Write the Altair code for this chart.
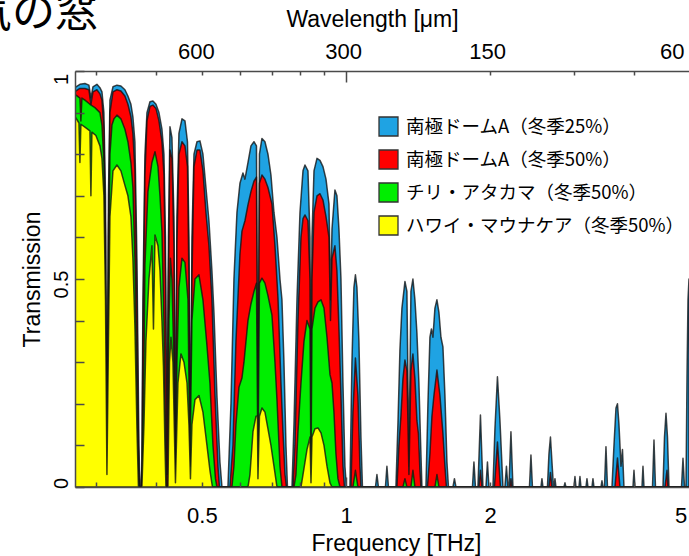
import altair as alt
import pandas as pd

SITES = [
    "南極ドームA（冬季25%）",
    "南極ドームA（冬季50%）",
    "チリ・アタカマ（冬季50%）",
    "ハワイ・マウナケア（冬季50%）",
]
SITE_COLORS = ["#1FA3E3", "#FF0000", "#00EE00", "#FFFF00"]

# (frequency [THz], transmission) along each spectrum
DOME_A_25 = [
    (0.2716, 0.960), (0.2729, 0.962), (0.2781, 0.968), (0.2849, 0.970), (0.2904, 0.966),
    (0.2932, 0.935), (0.2961, 0.962), (0.3018, 0.968), (0.3062, 0.960), (0.3092, 0.950),
    (0.3121, 0.900), (0.3145, 0.700), (0.3167, 0.020), (0.3190, 0.700), (0.3213, 0.930),
    (0.3260, 0.962), (0.3323, 0.966), (0.3387, 0.964), (0.3453, 0.955), (0.3503, 0.940),
    (0.3554, 0.920), (0.3588, 0.890), (0.3623, 0.830), (0.3658, 0.550), (0.3694, 0.100),
    (0.3711, 0.000), (0.3729, 0.000), (0.3747, 0.050), (0.3765, 0.450), (0.3802, 0.800),
    (0.3839, 0.900), (0.3895, 0.926), (0.3951, 0.928), (0.4009, 0.920), (0.4067, 0.900),
    (0.4126, 0.860), (0.4166, 0.800), (0.4196, 0.600), (0.4226, 0.050), (0.4257, 0.600),
    (0.4288, 0.866), (0.4329, 0.840), (0.4371, 0.650), (0.4403, 0.050), (0.4434, 0.650),
    (0.4477, 0.850), (0.4543, 0.885), (0.4609, 0.880), (0.4665, 0.830), (0.4698, 0.600),
    (0.4732, 0.080), (0.4766, 0.600), (0.4813, 0.800), (0.4883, 0.830), (0.4953, 0.832),
    (0.5025, 0.800), (0.5098, 0.720), (0.5172, 0.640), (0.5247, 0.520), (0.5298, 0.420),
    (0.5375, 0.220), (0.5453, 0.060), (0.5506, 0.000), (0.5667, 0.000), (0.5750, 0.200),
    (0.5833, 0.500), (0.5918, 0.660), (0.6004, 0.730), (0.6091, 0.755), (0.6150, 0.740),
    (0.6240, 0.780), (0.6330, 0.820), (0.6422, 0.830), (0.6500, 0.820), (0.6547, 0.100),
    (0.6594, 0.800), (0.6674, 0.838), (0.6771, 0.830), (0.6870, 0.800), (0.6969, 0.750),
    (0.7071, 0.660), (0.7174, 0.600), (0.7278, 0.500), (0.7348, 0.450), (0.7419, 0.300),
    (0.7491, 0.100), (0.7545, 0.000), (0.7711, 0.000), (0.7785, 0.150), (0.7898, 0.450),
    (0.8013, 0.660), (0.8130, 0.760), (0.8208, 0.774), (0.8327, 0.760), (0.8408, 0.600),
    (0.8449, 0.080), (0.8489, 0.600), (0.8572, 0.760), (0.8696, 0.790), (0.8822, 0.785),
    (0.8950, 0.770), (0.9081, 0.740), (0.9213, 0.680), (0.9279, 0.450), (0.9347, 0.620),
    (0.9480, 0.714), (0.9572, 0.700), (0.9665, 0.620), (0.9759, 0.500), (0.9853, 0.250),
    (0.9947, 0.050), (1.0019, 0.000), (1.0189, 0.000), (1.0288, 0.300), (1.0387, 0.480),
    (1.0462, 0.510), (1.0538, 0.480), (1.0640, 0.350), (1.0743, 0.120), (1.0821, 0.000),
    (1.1519, 0.000), (1.1602, 0.030), (1.1686, 0.000), (1.2086, 0.000), (1.2173, 0.050),
    (1.2261, 0.000), (1.2711, 0.000), (1.2834, 0.150), (1.2959, 0.330), (1.3084, 0.430),
    (1.3274, 0.494), (1.3402, 0.470), (1.3532, 0.050), (1.3662, 0.470), (1.3794, 0.500),
    (1.3928, 0.450), (1.4062, 0.370), (1.4198, 0.250), (1.4301, 0.120), (1.4405, 0.000),
    (1.4685, 0.000), (1.4827, 0.200), (1.4970, 0.360), (1.5078, 0.380), (1.5187, 0.360),
    (1.5335, 0.430), (1.5483, 0.450), (1.5632, 0.420), (1.5784, 0.360), (1.5936, 0.337),
    (1.6090, 0.220), (1.6246, 0.060), (1.6364, 0.000), (1.6722, 0.000), (1.6842, 0.020),
    (1.6964, 0.000), (1.8366, 0.000), (1.8498, 0.060), (1.8633, 0.000), (1.8858, 0.000),
    (1.9086, 0.173), (1.9317, 0.000), (1.9598, 0.000), (1.9740, 0.060), (1.9882, 0.000),
    (2.0268, 0.000), (2.0464, 0.140), (2.0712, 0.265), (2.0963, 0.160), (2.1268, 0.000),
    (2.1473, 0.000), (2.1628, 0.050), (2.1784, 0.000), (2.1890, 0.000), (2.2101, 0.133),
    (2.2315, 0.000), (2.4158, 0.000), (2.4333, 0.077), (2.4509, 0.000), (2.5532, 0.000),
    (2.5655, 0.020), (2.5779, 0.000), (2.6343, 0.000), (2.6534, 0.080), (2.6726, 0.120),
    (2.6920, 0.060), (2.7115, 0.000), (2.7180, 0.000), (2.7311, 0.020), (2.7443, 0.000),
    (2.8519, 0.000), (2.8657, 0.010), (2.8795, 0.000), (2.9924, 0.000), (3.0069, 0.025),
    (3.0214, 0.000), (3.0653, 0.000), (3.0801, 0.025), (3.0950, 0.000), (3.1703, 0.000),
    (3.1856, 0.020), (3.2010, 0.000), (3.2631, 0.000), (3.2788, 0.020), (3.2947, 0.000),
    (3.4074, 0.000), (3.4239, 0.015), (3.4404, 0.000), (3.4654, 0.000), (3.4904, 0.097),
    (3.5157, 0.000), (3.5927, 0.000), (3.6274, 0.100), (3.6625, 0.190), (3.6890, 0.200),
    (3.7157, 0.150), (3.7516, 0.050), (3.7788, 0.090), (3.8061, 0.000), (3.9746, 0.000),
    (3.9938, 0.040), (4.0130, 0.000), (4.1504, 0.000), (4.1704, 0.050), (4.1905, 0.000),
    (4.3655, 0.000), (4.3971, 0.113), (4.4289, 0.000), (4.5916, 0.000), (4.6249, 0.120),
    (4.6583, 0.177), (4.6921, 0.120), (4.7262, 0.000), (5.0190, 0.000), (5.0553, 0.069),
    (5.0919, 0.000), (5.1288, 0.000), (5.1535, 0.260), (5.1784, 0.450), (5.2035, 0.500),
]

DOME_A_50 = [
    (0.2716, 0.950), (0.2729, 0.952), (0.2781, 0.958), (0.2849, 0.958), (0.2904, 0.955),
    (0.2932, 0.920), (0.2961, 0.950), (0.3018, 0.955), (0.3062, 0.945), (0.3092, 0.930),
    (0.3121, 0.860), (0.3145, 0.600), (0.3167, 0.010), (0.3190, 0.600), (0.3213, 0.900),
    (0.3260, 0.950), (0.3323, 0.955), (0.3387, 0.952), (0.3453, 0.940), (0.3503, 0.920),
    (0.3554, 0.890), (0.3588, 0.850), (0.3623, 0.760), (0.3658, 0.450), (0.3685, 0.100),
    (0.3702, 0.000), (0.3729, 0.000), (0.3747, 0.020), (0.3765, 0.350), (0.3802, 0.750),
    (0.3839, 0.880), (0.3895, 0.915), (0.3951, 0.918), (0.4009, 0.910), (0.4067, 0.880),
    (0.4126, 0.830), (0.4166, 0.750), (0.4196, 0.500), (0.4226, 0.030), (0.4257, 0.500),
    (0.4288, 0.810), (0.4329, 0.790), (0.4371, 0.580), (0.4403, 0.030), (0.4434, 0.580),
    (0.4477, 0.800), (0.4543, 0.830), (0.4609, 0.820), (0.4665, 0.770), (0.4698, 0.500),
    (0.4732, 0.050), (0.4766, 0.500), (0.4813, 0.770), (0.4883, 0.810), (0.4953, 0.810),
    (0.5025, 0.760), (0.5098, 0.660), (0.5172, 0.580), (0.5247, 0.450), (0.5324, 0.220),
    (0.5401, 0.050), (0.5440, 0.000), (0.5722, 0.000), (0.5805, 0.100), (0.5889, 0.350),
    (0.5946, 0.454), (0.6004, 0.560), (0.6062, 0.615), (0.6150, 0.640), (0.6240, 0.678),
    (0.6330, 0.710), (0.6422, 0.735), (0.6500, 0.745), (0.6547, 0.080), (0.6594, 0.730),
    (0.6674, 0.750), (0.6771, 0.740), (0.6870, 0.720), (0.7003, 0.680), (0.7105, 0.580),
    (0.7209, 0.454), (0.7313, 0.250), (0.7384, 0.133), (0.7455, 0.030), (0.7509, 0.000),
    (0.7748, 0.000), (0.7822, 0.100), (0.7936, 0.400), (0.8052, 0.600), (0.8130, 0.645),
    (0.8208, 0.654), (0.8327, 0.640), (0.8408, 0.500), (0.8449, 0.050), (0.8489, 0.500),
    (0.8572, 0.660), (0.8696, 0.700), (0.8822, 0.705), (0.8950, 0.690), (0.9081, 0.650),
    (0.9213, 0.600), (0.9279, 0.400), (0.9347, 0.550), (0.9480, 0.580), (0.9572, 0.520),
    (0.9665, 0.380), (0.9759, 0.220), (0.9853, 0.050), (0.9923, 0.000), (1.0238, 0.000),
    (1.0337, 0.180), (1.0462, 0.310), (1.0589, 0.220), (1.0691, 0.050), (1.0743, 0.000),
    (1.2773, 0.000), (1.2896, 0.100), (1.3021, 0.170), (1.3147, 0.260), (1.3274, 0.305),
    (1.3402, 0.280), (1.3532, 0.030), (1.3662, 0.280), (1.3794, 0.320), (1.3928, 0.260),
    (1.4062, 0.160), (1.4164, 0.128), (1.4267, 0.040), (1.4336, 0.000), (1.4792, 0.000),
    (1.4970, 0.080), (1.5114, 0.170), (1.5261, 0.220), (1.5483, 0.281), (1.5708, 0.220),
    (1.5936, 0.128), (1.6090, 0.050), (1.6206, 0.000), (1.8949, 0.000), (1.9086, 0.040),
    (1.9224, 0.000), (2.0415, 0.000), (2.0712, 0.108), (2.1013, 0.000), (2.1995, 0.000),
    (2.2101, 0.020), (2.2208, 0.000), (2.6534, 0.000), (2.6726, 0.035), (2.6920, 0.000),
    (3.6449, 0.000), (3.6890, 0.070), (3.7336, 0.000), (4.6360, 0.000), (4.6810, 0.040),
    (4.7036, 0.000), (5.2035, 0.000),
]

ATACAMA_50 = [
    (0.2716, 0.942), (0.2729, 0.942), (0.2781, 0.935), (0.2794, 0.880), (0.2808, 0.935),
    (0.2849, 0.930), (0.2918, 0.920), (0.2989, 0.912), (0.3062, 0.900), (0.3092, 0.870),
    (0.3121, 0.780), (0.3145, 0.450), (0.3167, 0.000), (0.3190, 0.450), (0.3213, 0.800),
    (0.3244, 0.870), (0.3276, 0.885), (0.3323, 0.894), (0.3387, 0.885), (0.3453, 0.860),
    (0.3503, 0.830), (0.3554, 0.780), (0.3588, 0.720), (0.3623, 0.550), (0.3658, 0.250),
    (0.3685, 0.020), (0.3702, 0.000), (0.3747, 0.000), (0.3784, 0.300), (0.3802, 0.534),
    (0.3857, 0.710), (0.3932, 0.780), (0.3990, 0.806), (0.4048, 0.770), (0.4087, 0.700),
    (0.4126, 0.614), (0.4166, 0.400), (0.4186, 0.213), (0.4216, 0.000), (0.4247, 0.000),
    (0.4267, 0.400), (0.4298, 0.550), (0.4329, 0.500), (0.4371, 0.300), (0.4403, 0.020),
    (0.4434, 0.300), (0.4477, 0.480), (0.4543, 0.550), (0.4609, 0.540), (0.4676, 0.450),
    (0.4721, 0.050), (0.4766, 0.400), (0.4836, 0.500), (0.4930, 0.510), (0.5025, 0.450),
    (0.5123, 0.340), (0.5197, 0.250), (0.5273, 0.100), (0.5337, 0.020), (0.5375, 0.000),
    (0.5777, 0.000), (0.5833, 0.050), (0.5889, 0.150), (0.5975, 0.240), (0.6062, 0.262),
    (0.6121, 0.300), (0.6180, 0.350), (0.6240, 0.400), (0.6330, 0.440), (0.6422, 0.470),
    (0.6500, 0.490), (0.6547, 0.050), (0.6594, 0.490), (0.6674, 0.502), (0.6771, 0.490),
    (0.6870, 0.460), (0.7003, 0.413), (0.7105, 0.300), (0.7174, 0.210), (0.7278, 0.050),
    (0.7348, 0.000), (0.7785, 0.000), (0.7860, 0.030), (0.7936, 0.133), (0.8052, 0.250),
    (0.8169, 0.350), (0.8287, 0.400), (0.8408, 0.380), (0.8449, 0.030), (0.8489, 0.380),
    (0.8613, 0.430), (0.8738, 0.445), (0.8865, 0.450), (0.8994, 0.430), (0.9125, 0.360),
    (0.9257, 0.270), (0.9347, 0.250), (0.9435, 0.180), (0.9526, 0.080), (0.9618, 0.020),
    (0.9712, 0.000), (1.0337, 0.000), (1.0462, 0.040), (1.0589, 0.000), (1.3147, 0.000),
    (1.3274, 0.020), (1.3402, 0.000), (1.3662, 0.000), (1.3794, 0.040), (1.3928, 0.000),
    (1.5335, 0.000), (1.5483, 0.030), (1.5632, 0.000), (5.2035, 0.000),
]

MAUNA_KEA_50 = [
    (0.2716, 0.888), (0.2729, 0.887), (0.2768, 0.875), (0.2781, 0.780), (0.2794, 0.872),
    (0.2849, 0.865), (0.2918, 0.856), (0.2932, 0.700), (0.2946, 0.853), (0.3003, 0.845),
    (0.3062, 0.820), (0.3092, 0.790), (0.3121, 0.700), (0.3145, 0.450), (0.3167, 0.030),
    (0.3190, 0.350), (0.3213, 0.650), (0.3260, 0.760), (0.3323, 0.774), (0.3387, 0.760),
    (0.3453, 0.725), (0.3503, 0.700), (0.3554, 0.650), (0.3588, 0.550), (0.3623, 0.385),
    (0.3658, 0.144), (0.3685, 0.000), (0.3747, 0.000), (0.3784, 0.150), (0.3820, 0.350),
    (0.3876, 0.500), (0.3932, 0.580), (0.3961, 0.380), (0.3990, 0.606), (0.4048, 0.580),
    (0.4087, 0.520), (0.4126, 0.400), (0.4156, 0.290), (0.4186, 0.100), (0.4206, 0.000),
    (0.4247, 0.000), (0.4278, 0.300), (0.4309, 0.360), (0.4350, 0.300), (0.4403, 0.010),
    (0.4456, 0.250), (0.4521, 0.320), (0.4587, 0.300), (0.4654, 0.250), (0.4698, 0.150),
    (0.4732, 0.020), (0.4766, 0.150), (0.4836, 0.210), (0.4930, 0.220), (0.5025, 0.180),
    (0.5123, 0.100), (0.5197, 0.040), (0.5260, 0.000), (0.6240, 0.000), (0.6300, 0.030),
    (0.6392, 0.133), (0.6484, 0.170), (0.6531, 0.170), (0.6547, 0.020), (0.6594, 0.170),
    (0.6674, 0.190), (0.6771, 0.180), (0.6870, 0.140), (0.6969, 0.100), (0.7071, 0.050),
    (0.7174, 0.000), (0.8052, 0.000), (0.8130, 0.030), (0.8287, 0.090), (0.8408, 0.120),
    (0.8449, 0.010), (0.8489, 0.120), (0.8613, 0.140), (0.8738, 0.142), (0.8865, 0.130),
    (0.8994, 0.100), (0.9125, 0.050), (0.9257, 0.010), (0.9347, 0.000), (5.2035, 0.000),
]

FREQ_DOMAIN = [0.2716, 5.2035]
FREQ_LABELS = [0.5, 1, 2, 5]
FREQ_MINOR_TICKS = [0.3, 0.4, 0.5, 0.6, 0.7, 0.8, 0.9, 2, 3, 4]
FREQ_MAJOR_TICKS = [1]
TRANS_LABELS = [0, 0.5, 1]
TRANS_TICKS = [0.0, 0.1, 0.2, 0.3, 0.4, 0.5, 0.6, 0.7, 0.8, 0.9, 1.0]

FRAME = "#4a4a4a"
LATIN = "Liberation Sans"
CJK = "Noto Sans CJK JP"

x_scale = alt.Scale(type="log", domain=FREQ_DOMAIN, nice=False)
y_scale = alt.Scale(domain=[0, 1], nice=False, zero=True)
color_scale = alt.Scale(domain=SITES, range=SITE_COLORS)

legend = alt.Legend(
    title=None, orient="none", legendX=303, legendY=45, direction="vertical",
    symbolType="square", symbolSize=361, symbolStrokeColor="#333333",
    symbolStrokeWidth=1.3, symbolOpacity=1, labelFont=CJK, labelFontSize=18.5,
    labelColor="#000000", labelLimit=400, labelOffset=7, rowPadding=8,
    padding=0, offset=0,
)


def spectrum(points, site):
    df = pd.DataFrame(points, columns=["freq", "trans"])
    df["site"] = site
    return alt.Chart(df).mark_area(
        stroke="#111111", strokeWidth=1.5, strokeOpacity=0.78, strokeJoin="round",
        opacity=1, fillOpacity=1, clip=True,
    ).encode(
        x=alt.X("freq:Q", scale=x_scale, axis=None),
        y=alt.Y("trans:Q", scale=y_scale, axis=None),
        color=alt.Color("site:N", scale=color_scale, legend=legend),
    )


def freq_axis(values, axis):
    return alt.Chart(pd.DataFrame({"freq": values})).mark_point(opacity=0).encode(
        x=alt.X("freq:Q", scale=x_scale, axis=axis)
    )


def trans_axis(values, axis):
    return alt.Chart(pd.DataFrame({"trans": values})).mark_point(opacity=0).encode(
        y=alt.Y("trans:Q", scale=y_scale, axis=axis)
    )


def tick_axis(orient, values, size):
    # inward-pointing tick marks, no labels or line
    return alt.Axis(
        orient=orient, values=values, labels=False, domain=False, ticks=True,
        tickSize=size, offset=-size, tickWidth=1.5, tickColor=FRAME,
        title=None, grid=False, zindex=1,
    )


label_style = dict(
    ticks=False, domain=True, domainColor=FRAME, domainWidth=1.5, grid=False,
    labelFont=LATIN, labelColor="#000000", labelFlush=False, labelOverlap=False,
    titleFont=LATIN, titleColor="#000000", titleFontWeight="normal",
    titleFontSize=23, titleAlign="center", titleBaseline="alphabetic", zindex=1,
)

bottom_axis = alt.Axis(
    orient="bottom", values=FREQ_LABELS,
    labelExpr="datum.value == 0.5 ? '0.5' : format(datum.value, 'd')",
    labelFontSize=22, labelPadding=18,
    title="Frequency [THz]", titleX=321, titleY=63, **label_style,
)

top_axis = alt.Axis(
    orient="top", values=FREQ_LABELS,
    labelExpr="format(300 / datum.value, 'd')",
    labelFontSize=22, labelPadding=8,
    labelOffset={
        "condition": [
            {"test": "datum.value == 5", "value": -9},
            {"test": "datum.value == 0.5", "value": -6},
        ],
        "value": -3,
    },
    title="Wavelength [μm]", titleX=297, titleY=-45, **label_style,
)

left_axis = alt.Axis(
    orient="left", values=TRANS_LABELS,
    labelExpr="datum.value == 0.5 ? '0.5' : format(datum.value, 'd')",
    labelFontSize=20, labelAngle=270, labelAlign="center", labelBaseline="bottom",
    labelPadding=4,
    labelOffset={
        "condition": [
            {"test": "datum.value == 1", "value": 8},
            {"test": "datum.value == 0", "value": -4},
        ],
        "value": 5,
    },
    title="Transmission", titleAngle=270, titleX=-36, titleY=208, **label_style,
)

areas = [
    spectrum(DOME_A_25, SITES[0]),
    spectrum(DOME_A_50, SITES[1]),
    spectrum(ATACAMA_50, SITES[2]),
    spectrum(MAUNA_KEA_50, SITES[3]),
]

axes = [
    freq_axis(FREQ_LABELS, bottom_axis),
    freq_axis(FREQ_MINOR_TICKS, tick_axis("bottom", FREQ_MINOR_TICKS, 5)),
    freq_axis(FREQ_MAJOR_TICKS, tick_axis("bottom", FREQ_MAJOR_TICKS, 10)),
    freq_axis(FREQ_LABELS, top_axis),
    freq_axis(FREQ_MINOR_TICKS, tick_axis("top", FREQ_MINOR_TICKS, 4)),
    freq_axis(FREQ_MAJOR_TICKS, tick_axis("top", FREQ_MAJOR_TICKS, 11)),
    trans_axis(TRANS_LABELS, left_axis),
    trans_axis(TRANS_TICKS, tick_axis("left", TRANS_TICKS, 9)),
]

heading = alt.Chart(pd.DataFrame({"text": ["大気の窓"]})).mark_text(
    font=CJK, fontSize=43, fontWeight="normal", align="right", baseline="alphabetic",
    color="#000000",
).encode(text="text:N", x=alt.value(23), y=alt.value(-44))

chart = (
    alt.layer(*areas, *axes, heading)
    .resolve_axis(x="independent", y="independent")
    .properties(
        width=614, height=416,
        padding={"left": 75, "top": 71, "right": 0, "bottom": 69},
        autosize=alt.AutoSizeParams(type="none"),
        background="white",
    )
    .configure_view(stroke=None)
)

chart.save("out.html", embed_options={"renderer": "svg", "actions": False})
